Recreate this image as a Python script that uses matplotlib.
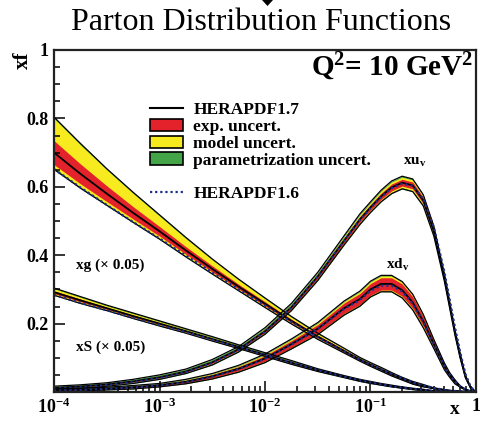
import numpy as np
import matplotlib
matplotlib.use('Agg')
import matplotlib.pyplot as plt
from matplotlib.lines import Line2D
from matplotlib.patches import Patch, Polygon
from matplotlib.ticker import MultipleLocator, FixedLocator, NullFormatter

plt.rcParams['font.family'] = 'Liberation Serif'
plt.rcParams['font.weight'] = 'bold'
plt.rcParams['mathtext.fontset'] = 'custom'
plt.rcParams['mathtext.rm'] = 'Liberation Serif:bold'
plt.rcParams['mathtext.it'] = 'Liberation Serif:bold'
plt.rcParams['mathtext.bf'] = 'Liberation Serif:bold'

# x grid (log10 x), finer near the valence peaks
logx = [-4, -3.75, -3.5, -3.25, -3, -2.75, -2.5, -2.25, -2, -1.75, -1.5, -1.25, -1.1,
        -1, -0.9, -0.8, -0.7, -0.6, -0.5, -0.4, -0.3, -0.25, -0.2, -0.15, -0.1, -0.05, 0]

# gluon (x 0.05)
xg = [0.700, 0.638, 0.580, 0.524, 0.470, 0.414, 0.360, 0.308, 0.258, 0.208, 0.162, 0.120, 0.095,
      0.080, 0.066, 0.052, 0.039, 0.027, 0.018, 0.011, 0.006, 0.004, 0.003, 0.002, 0.001, 0.0, 0.0]
xg_exp = [0.035, 0.029, 0.023, 0.018, 0.014, 0.011, 0.009, 0.007, 0.006, 0.005, 0.004, 0.004, 0.003,
          0.003, 0.003, 0.003, 0.002, 0.002, 0.002, 0.001, 0.001, 0.0, 0.0, 0.0, 0.0, 0.0, 0.0]
xg_mod_hi = [0.065, 0.056, 0.047, 0.039, 0.031, 0.024, 0.018, 0.013, 0.009, 0.006, 0.004, 0.003, 0.002,
             0.002, 0.002, 0.001, 0.001, 0.001, 0.001, 0.0, 0.0, 0.0, 0.0, 0.0, 0.0, 0.0, 0.0]
xg_mod_lo = [0.010, 0.009, 0.008, 0.007, 0.006, 0.005, 0.004, 0.003, 0.003, 0.002, 0.002, 0.001, 0.001,
             0.001, 0.001, 0.001, 0.001, 0.001, 0.0, 0.0, 0.0, 0.0, 0.0, 0.0, 0.0, 0.0, 0.0]
xg_par = [0.004, 0.004, 0.003, 0.003, 0.003, 0.003, 0.002, 0.002, 0.002, 0.002, 0.002, 0.001, 0.001,
          0.001, 0.001, 0.001, 0.001, 0.001, 0.001, 0.0, 0.0, 0.0, 0.0, 0.0, 0.0, 0.0, 0.0]
xg_16 = [0.652, 0.598, 0.547, 0.497, 0.449, 0.399, 0.349, 0.300, 0.253, 0.205, 0.160, 0.119, 0.095,
         0.080, 0.066, 0.053, 0.040, 0.028, 0.019, 0.012, 0.006, 0.004, 0.003, 0.002, 0.001, 0.0, 0.0]

# sea (x 0.05)
xS = [0.292, 0.268, 0.245, 0.222, 0.200, 0.178, 0.155, 0.132, 0.109, 0.086, 0.064, 0.045, 0.034,
      0.028, 0.022, 0.017, 0.013, 0.009, 0.006, 0.003, 0.0015, 0.001, 0.0005, 0.0003, 0.0, 0.0, 0.0]
xS_exp = [0.004, 0.004, 0.003, 0.003, 0.003, 0.002, 0.002, 0.002, 0.002, 0.002, 0.002, 0.001, 0.001,
          0.001, 0.001, 0.001, 0.001, 0.001, 0.001, 0.0, 0.0, 0.0, 0.0, 0.0, 0.0, 0.0, 0.0]
xS_mod_hi = [0.006, 0.005, 0.004, 0.004, 0.003, 0.003, 0.003, 0.002, 0.002, 0.002, 0.001, 0.001, 0.001,
             0.001, 0.001, 0.001, 0.0, 0.0, 0.0, 0.0, 0.0, 0.0, 0.0, 0.0, 0.0, 0.0, 0.0]
xS_mod_lo = [0.003, 0.003, 0.002, 0.002, 0.002, 0.002, 0.002, 0.001, 0.001, 0.001, 0.001, 0.001, 0.001,
             0.001, 0.0, 0.0, 0.0, 0.0, 0.0, 0.0, 0.0, 0.0, 0.0, 0.0, 0.0, 0.0, 0.0]
xS_par = [0.002, 0.002, 0.002, 0.002, 0.002, 0.002, 0.002, 0.002, 0.002, 0.002, 0.001, 0.001, 0.001,
          0.001, 0.001, 0.001, 0.001, 0.001, 0.001, 0.0, 0.0, 0.0, 0.0, 0.0, 0.0, 0.0, 0.0]
xS_16 = [0.284, 0.261, 0.239, 0.217, 0.196, 0.175, 0.153, 0.131, 0.108, 0.086, 0.064, 0.045, 0.034,
         0.028, 0.022, 0.017, 0.013, 0.009, 0.006, 0.003, 0.0015, 0.001, 0.0005, 0.0003, 0.0, 0.0, 0.0]

# u valence
xuv = [0.012, 0.016, 0.022, 0.031, 0.043, 0.060, 0.087, 0.125, 0.178, 0.248, 0.338, 0.443, 0.505,
       0.540, 0.572, 0.598, 0.612, 0.604, 0.560, 0.470, 0.335, 0.255, 0.175, 0.105, 0.045, 0.012, 0.0]
xuv_exp = [0.001, 0.001, 0.001, 0.002, 0.002, 0.002, 0.003, 0.003, 0.004, 0.005, 0.006, 0.007, 0.008,
           0.008, 0.009, 0.010, 0.010, 0.010, 0.009, 0.008, 0.006, 0.005, 0.004, 0.003, 0.002, 0.001, 0.0]
xuv_mod_hi = [0.001, 0.001, 0.001, 0.001, 0.002, 0.002, 0.002, 0.002, 0.003, 0.003, 0.003, 0.004, 0.005,
              0.005, 0.006, 0.006, 0.006, 0.006, 0.005, 0.004, 0.003, 0.003, 0.002, 0.002, 0.001, 0.0, 0.0]
xuv_mod_lo = [0.001, 0.001, 0.001, 0.001, 0.001, 0.001, 0.002, 0.002, 0.002, 0.002, 0.003, 0.003, 0.004,
              0.004, 0.004, 0.005, 0.005, 0.005, 0.004, 0.003, 0.003, 0.002, 0.002, 0.001, 0.001, 0.0, 0.0]
xuv_par = [0.003, 0.003, 0.003, 0.003, 0.003, 0.003, 0.003, 0.003, 0.003, 0.003, 0.003, 0.003, 0.003,
           0.003, 0.003, 0.003, 0.003, 0.003, 0.003, 0.003, 0.002, 0.002, 0.002, 0.002, 0.001, 0.0, 0.0]
xuv_16 = [0.010, 0.014, 0.020, 0.029, 0.041, 0.058, 0.085, 0.123, 0.176, 0.247, 0.337, 0.442, 0.503,
          0.538, 0.570, 0.596, 0.609, 0.603, 0.565, 0.483, 0.352, 0.272, 0.190, 0.117, 0.053, 0.015, 0.0]

# d valence
xdv = [0.005, 0.007, 0.010, 0.014, 0.020, 0.030, 0.046, 0.068, 0.098, 0.140, 0.185, 0.245, 0.272,
       0.300, 0.316, 0.316, 0.298, 0.262, 0.207, 0.140, 0.075, 0.050, 0.030, 0.016, 0.007, 0.002, 0.0]
xdv_exp = [0.002, 0.002, 0.002, 0.003, 0.003, 0.004, 0.005, 0.006, 0.008, 0.010, 0.012, 0.015, 0.016,
           0.017, 0.018, 0.018, 0.018, 0.017, 0.014, 0.010, 0.007, 0.005, 0.004, 0.002, 0.001, 0.0, 0.0]
xdv_mod_hi = [0.001, 0.001, 0.001, 0.001, 0.001, 0.002, 0.002, 0.002, 0.003, 0.003, 0.004, 0.004, 0.005,
              0.005, 0.005, 0.005, 0.005, 0.005, 0.004, 0.003, 0.002, 0.001, 0.001, 0.0, 0.0, 0.0, 0.0]
xdv_mod_lo = [0.001, 0.001, 0.001, 0.001, 0.001, 0.001, 0.002, 0.002, 0.002, 0.002, 0.003, 0.003, 0.003,
              0.003, 0.003, 0.003, 0.003, 0.003, 0.003, 0.002, 0.002, 0.001, 0.001, 0.0, 0.0, 0.0, 0.0]
xdv_par = [0.001, 0.001, 0.001, 0.001, 0.001, 0.001, 0.001, 0.002, 0.002, 0.002, 0.002, 0.002, 0.002,
           0.002, 0.002, 0.002, 0.002, 0.002, 0.002, 0.001, 0.001, 0.001, 0.001, 0.0, 0.0, 0.0, 0.0]
xdv_16 = [0.004, 0.006, 0.009, 0.013, 0.019, 0.029, 0.045, 0.067, 0.097, 0.139, 0.184, 0.243, 0.269,
          0.296, 0.311, 0.311, 0.294, 0.259, 0.205, 0.140, 0.076, 0.051, 0.031, 0.017, 0.007, 0.002, 0.0]

RED = '#e3222b'
YELLOW = '#f7ea1e'
GREEN = '#43a547'
NAVY = '#1c2f8a'

x = 10 ** np.array(logx)

fig = plt.figure(figsize=(4.81, 4.21), dpi=100)
ax = fig.add_axes([54 / 481, 29 / 421, 422 / 481, 342 / 421])


def draw_pdf(c, exp, mod_hi, mod_lo, par, v16):
    # stacked bands: exp inside model inside parametrisation
    c = np.array(c)
    red_hi = c + np.array(exp)
    red_lo = c - np.array(exp)
    yel_hi = red_hi + np.array(mod_hi)
    yel_lo = red_lo - np.array(mod_lo)
    grn_hi = yel_hi + np.array(par)
    grn_lo = yel_lo - np.array(par)
    ax.fill_between(x, grn_lo, grn_hi, color=GREEN, lw=0)
    ax.fill_between(x, yel_lo, yel_hi, color=YELLOW, lw=0)
    ax.fill_between(x, red_lo, red_hi, color=RED, lw=0)
    ax.plot(x, grn_hi, color='black', lw=0.9)
    ax.plot(x, grn_lo, color='black', lw=0.9)
    ax.plot(x, c, color='black', lw=1.3)
    ax.plot(x, v16, color=NAVY, lw=1.6, ls=(0, (1, 1.3)))


draw_pdf(xg, xg_exp, xg_mod_hi, xg_mod_lo, xg_par, xg_16)
draw_pdf(xS, xS_exp, xS_mod_hi, xS_mod_lo, xS_par, xS_16)
draw_pdf(xuv, xuv_exp, xuv_mod_hi, xuv_mod_lo, xuv_par, xuv_16)
draw_pdf(xdv, xdv_exp, xdv_mod_hi, xdv_mod_lo, xdv_par, xdv_16)

ax.set_xscale('log')
ax.set_xlim(1e-4, 1)
ax.set_ylim(0, 1)

# ticks
ax.xaxis.set_major_locator(FixedLocator([1e-4, 1e-3, 1e-2, 1e-1, 1]))
ax.set_xticklabels([r'$10^{-4}$', r'$10^{-3}$', r'$10^{-2}$', r'$10^{-1}$', '1'])
ax.set_yticks([0.2, 0.4, 0.6, 0.8, 1.0])
ax.set_yticklabels(['0.2', '0.4', '0.6', '0.8', '1'])
ax.yaxis.set_minor_locator(MultipleLocator(0.05))
ax.xaxis.set_minor_formatter(NullFormatter())
ax.tick_params(which='both', direction='in', top=False, right=False, labelsize=13, width=1.1)
ax.tick_params(which='major', length=8, pad=4)
ax.tick_params(which='minor', length=4)
for s in ax.spines.values():
    s.set_linewidth(1.6)
    s.set_color('#222222')

# legend
handles = [Line2D([], [], color='black', lw=1.5),
           Patch(facecolor=RED, edgecolor='black', lw=1.2),
           Patch(facecolor=YELLOW, edgecolor='black', lw=1.2),
           Patch(facecolor=GREEN, edgecolor='black', lw=1.2),
           Line2D([], [], color='none'),
           Line2D([], [], color=NAVY, lw=1.6, ls=(0, (1, 1.3)))]
labels = ['HERAPDF1.7', 'exp. uncert.', 'model uncert.', 'parametrization uncert.', '',
          'HERAPDF1.6']
ax.legend(handles, labels, loc='upper left', bbox_to_anchor=(0.2275, 0.848), frameon=False,
          fontsize=12.5, handlelength=1.9, handleheight=0.75, handletextpad=0.6,
          labelspacing=0.02, borderpad=0, borderaxespad=0)

# curve labels
ax.text(0.26, 0.67, r'xu$_\mathrm{v}$', fontsize=11, ha='center', va='center')
ax.text(0.18, 0.371, r'xd$_\mathrm{v}$', fontsize=11, ha='center', va='center')
ax.text(1.6e-4, 0.371, 'xg (\u00d7 0.05)', fontsize=11, ha='left', va='center')
ax.text(1.6e-4, 0.132, 'xS (\u00d7 0.05)', fontsize=11, ha='left', va='center')
ax.text(0.993, 0.95, r'Q$^{2}$= 10 GeV$^{2}$', transform=ax.transAxes, fontsize=21,
        ha='right', va='center')

fig.text(23 / 481, 1 - 60 / 421, 'xf', rotation=90, fontsize=15, ha='center', va='center')
fig.text(455 / 481, 1 - 410 / 421, 'x', fontsize=14, ha='center', va='center')
fig.text(0.543, 1 - 23 / 421, 'Parton Distribution Functions', fontsize=23,
         fontweight='normal', ha='center', va='center')

# little marker at the very top
fig.patches.append(Polygon([(262 / 481, 1.0), (273 / 481, 1.0), (267.5 / 481, 1 - 6 / 421)],
                           closed=True, facecolor='black', transform=fig.transFigure))

fig.savefig('out.png', dpi=100)
